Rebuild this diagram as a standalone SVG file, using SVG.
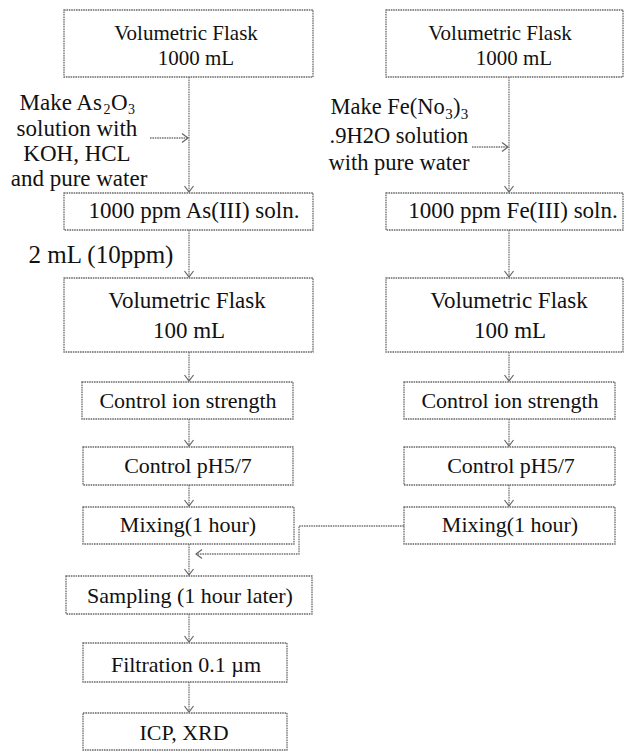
<svg xmlns="http://www.w3.org/2000/svg" width="624" height="751" viewBox="0 0 624 751">
<style>
.box{fill:#fff;stroke:#6a6a6a;stroke-width:1.3;stroke-dasharray:1.6 0.8}
text{font-family:'Liberation Serif','Times New Roman',serif;fill:#111;text-anchor:middle}
text.s{text-anchor:start}
.c{fill:none;stroke:#777;stroke-width:1.3;stroke-dasharray:1.6 0.8}
</style>
<defs>
<marker id="arr" viewBox="-8 -6 10 12" refX="0" refY="0" markerWidth="10" markerHeight="12" markerUnits="userSpaceOnUse" orient="auto">
<path d="M-6,-4.5 L0,0 L-6,4.5" fill="none" stroke="#666" stroke-width="1.2"/>
</marker>
</defs>
<rect width="624" height="751" fill="#fff"/>

<g id="connectors">
<path class="c" d="M189,77 V192" marker-end="url(#arr)"/>
<path class="c" d="M150,138 H188" marker-end="url(#arr)"/>
<path class="c" d="M189,230 V277" marker-end="url(#arr)"/>
<path class="c" d="M189,352 V381" marker-end="url(#arr)"/>
<path class="c" d="M189,419 V446" marker-end="url(#arr)"/>
<path class="c" d="M189,485 V506" marker-end="url(#arr)"/>
<path class="c" d="M189,544 V575" marker-end="url(#arr)"/>
<path class="c" d="M189,614 V642" marker-end="url(#arr)"/>
<path class="c" d="M189,682 V712" marker-end="url(#arr)"/>
<path class="c" d="M509,77 V192" marker-end="url(#arr)"/>
<path class="c" d="M472,147 H508" marker-end="url(#arr)"/>
<path class="c" d="M509,230 V277" marker-end="url(#arr)"/>
<path class="c" d="M509,352 V381" marker-end="url(#arr)"/>
<path class="c" d="M509,419 V446" marker-end="url(#arr)"/>
<path class="c" d="M509,485 V506" marker-end="url(#arr)"/>
<path class="c" d="M404,526 H299 V554 H196" marker-end="url(#arr)"/>
</g>

<g id="label-as">
<text class="s" font-size="23" x="19.5" y="110">Make As</text>
<text class="s" font-size="14" x="103.5" y="114">2</text>
<text class="s" font-size="23" x="111" y="110">O</text>
<text class="s" font-size="14" x="128" y="114">3</text>
<text font-size="23" x="77" y="136">solution with</text>
<text font-size="23" x="77" y="161">KOH, HCL</text>
<text font-size="23" x="79" y="186">and pure water</text>
</g>
<g id="label-fe">
<text class="s" font-size="22.5" x="330.5" y="114">Make Fe(No</text>
<text class="s" font-size="15" x="445.2" y="119">3</text>
<text class="s" font-size="22.5" x="453" y="114">)</text>
<text class="s" font-size="15" x="460.8" y="119">3</text>
<text font-size="22.5" x="399" y="143">.9H2O solution</text>
<text font-size="22.5" x="399" y="170">with pure water</text>
</g>
<g id="label-2ml">
<text font-size="25" x="101" y="263">2 mL (10ppm)</text>
</g>

<g id="n-l1"><rect class="box" x="64" y="10" width="249" height="67"/>
<text font-size="21" x="186" y="40">Volumetric Flask</text>
<text font-size="21" x="196" y="65">1000 mL</text></g>
<g id="n-l2"><rect class="box" x="64" y="193" width="249" height="37"/>
<text font-size="23" x="194" y="218">1000 ppm As(III) soln.</text></g>
<g id="n-l3"><rect class="box" x="64" y="278" width="249" height="74"/>
<text font-size="23" x="187" y="308">Volumetric Flask</text>
<text font-size="23" x="189" y="338">100 mL</text></g>
<g id="n-l4"><rect class="box" x="82" y="382" width="211" height="37"/>
<text font-size="22" x="188" y="408">Control ion strength</text></g>
<g id="n-l5"><rect class="box" x="83" y="447" width="210" height="38"/>
<text font-size="22" x="188" y="473">Control pH5/7</text></g>
<g id="n-l6"><rect class="box" x="83" y="507" width="211" height="37"/>
<text font-size="22" x="188" y="532">Mixing(1 hour)</text></g>
<g id="n-l7"><rect class="box" x="66" y="576" width="246" height="38"/>
<text font-size="22" x="190" y="603">Sampling (1 hour later)</text></g>
<g id="n-l8"><rect class="box" x="83" y="643" width="204" height="39"/>
<text font-size="22" x="186" y="672">Filtration 0.1 µm</text></g>
<g id="n-l9"><rect class="box" x="83" y="713" width="204" height="37"/>
<text font-size="22" x="184" y="740">ICP, XRD</text></g>

<g id="n-r1"><rect class="box" x="386" y="10" width="237" height="67"/>
<text font-size="21" x="500" y="40">Volumetric Flask</text>
<text font-size="21" x="514" y="65">1000 mL</text></g>
<g id="n-r2"><rect class="box" x="386" y="193" width="237" height="37"/>
<text font-size="23" x="513" y="218">1000 ppm Fe(III) soln.</text></g>
<g id="n-r3"><rect class="box" x="386" y="278" width="237" height="74"/>
<text font-size="23" x="509" y="308">Volumetric Flask</text>
<text font-size="23" x="510" y="338">100 mL</text></g>
<g id="n-r4"><rect class="box" x="404" y="382" width="211" height="37"/>
<text font-size="22" x="510" y="408">Control ion strength</text></g>
<g id="n-r5"><rect class="box" x="404" y="447" width="211" height="38"/>
<text font-size="22" x="511" y="473">Control pH5/7</text></g>
<g id="n-r6"><rect class="box" x="404" y="507" width="211" height="37"/>
<text font-size="22" x="510" y="532">Mixing(1 hour)</text></g>
</svg>
